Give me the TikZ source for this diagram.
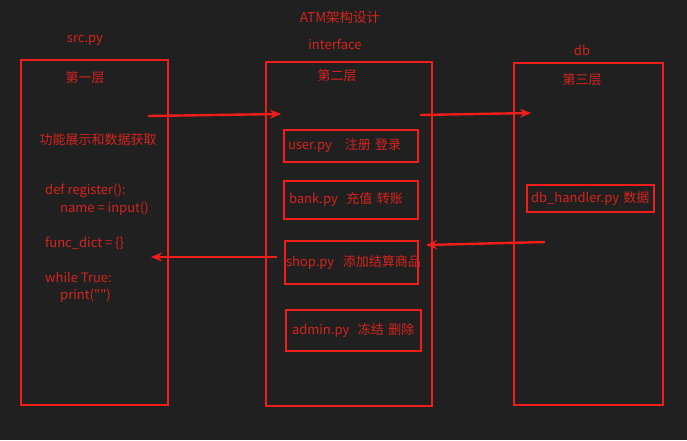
\documentclass[tikz,border=0pt]{standalone}
\usepackage{fontspec}
\setmainfont{Noto Sans CJK SC}
\newfontfamily\codefont{Noto Sans CJK SC}
\usetikzlibrary{arrows.meta, positioning}
\definecolor{atmbg}{RGB}{32,32,32}
\definecolor{atmred}{RGB}{240,30,26}
\definecolor{atmtext}{RGB}{214,36,30}

\begin{document}
\begin{tikzpicture}[x=1pt, y=-1pt,
    layerbox/.style={rectangle, draw=atmred, line width=1.7pt, inner sep=0pt, outer sep=0pt},
    modbox/.style={rectangle, draw=atmred, line width=1.7pt, inner ysep=0pt, align=left, text=atmtext, font=\fontsize{13}{15}\selectfont},
    redtext/.style={text=atmtext, inner sep=0pt, font=\fontsize{13}{15}\selectfont},
    arrow/.style={-{Stealth[length=11pt, width=9pt]}, line width=2.4pt, atmred}
]
    % background
    \fill[atmbg] (0,0) rectangle (687,440);
    \useasboundingbox (0,0) rectangle (687,440);

    % Titles
    \node[redtext, font=\fontsize{13.5}{15}\selectfont] (title) at (340,17) {ATM架构设计};
    \node[redtext] (srctitle) at (85,40) {src.py};
    \node[redtext] (ifacetitle) at (335,44) {interface};
    \node[redtext] (dbtitle) at (582,50) {db};

    % Three layers
    \node[layerbox, minimum width=147pt, minimum height=345pt] (src) at (94.5,232.5) {};
    \node[layerbox, minimum width=166pt, minimum height=344pt] (iface) at (349,234) {};
    \node[layerbox, minimum width=149pt, minimum height=342pt] (db) at (588.5,234) {};

    \node[redtext] (layer1) at (85,78) {第一层};
    \node[redtext] (layer2) at (337,76) {第二层};
    \node[redtext] (layer3) at (582,80) {第三层};

    % src.py contents
    \node[redtext] (func) at (98,140) {功能展示和数据获取};
    \node[redtext, anchor=west, align=left, font=\codefont\fontsize{13}{17.5}\selectfont] (code) at (45,243.5)
        {def register():\\\hspace*{15pt}name = input()\\[17.5pt]func\_dict = \{\}\\[17.5pt]while True:\\\hspace*{15pt}print("")};

    % interface modules
    \node[modbox, minimum height=32pt, inner xsep=4pt, text width=126pt] (user) at (351,146) {user.py\ \ \ 注册 登录};
    \node[modbox, minimum height=38pt, inner xsep=5pt, text width=124pt] (bank) at (351,200) {bank.py\ \ 充值 转账};
    \node[modbox, minimum height=43pt, inner xsep=1pt, text width=131pt] (shop) at (351.5,262.5) {\mbox{shop.py\ \ 添加结算商品}};
    \node[modbox, minimum height=41pt, inner xsep=6pt, text width=123pt] (admin) at (353.5,330.5) {admin.py\ \ 冻结 删除};

    % db contents
    \node[modbox, minimum height=27pt, inner xsep=4pt, text width=119pt] (dbhandler) at (590.5,198.5) {db\_handler.py 数据};

    % Arrow ends
    \coordinate (a1tail) at (148,116);
    \coordinate (a1head) at (281,114);
    \coordinate (a2tail) at (420,115);
    \coordinate (a2head) at (531,113);
    \coordinate (a3tail) at (545,242);
    \coordinate (a3head) at (426,245);
    \coordinate (a4tail) at (277,257);
    \coordinate (a4head) at (151,257);

    \draw[arrow] (a1tail) -- (a1head);
    \draw[arrow] (a2tail) -- (a2head);
    \draw[arrow] (a3tail) -- (a3head);
    \draw[arrow] (a4tail) -- (a4head);
\end{tikzpicture}
\end{document}
